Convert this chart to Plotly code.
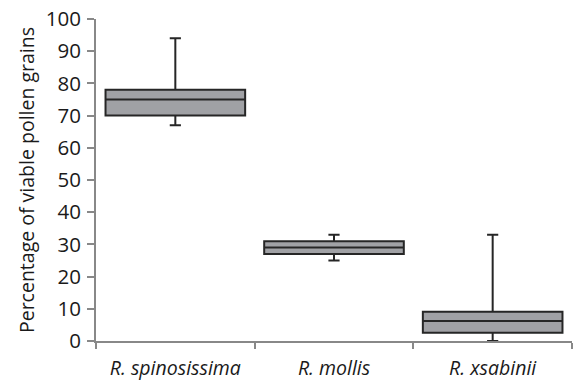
import plotly.graph_objects as go

species = ["R. spinosissima", "R. mollis", "R. xsabinii"]
lower_whisker = [67, 25, 0]
q1 = [70, 27, 2.6]
median = [75, 29, 6.2]
q3 = [78, 31, 9.1]
upper_whisker = [94, 33, 33]
y_ticks = [0, 10, 20, 30, 40, 50, 60, 70, 80, 90, 100]

fig = go.Figure()
fig.add_trace(go.Box(
    x=species,
    q1=q1, median=median, q3=q3,
    lowerfence=lower_whisker, upperfence=upper_whisker,
    fillcolor="#a0a1a5",
    line=dict(color="#262626", width=2),
    width=0.88,
    whiskerwidth=0.08,
    boxpoints=False,
    showlegend=False,
    hoverinfo="skip",
))

fig.update_layout(
    width=573, height=382,
    margin=dict(l=96, r=1, t=19, b=41),
    plot_bgcolor="white", paper_bgcolor="white",
    font=dict(family="Open Sans, sans-serif", color="#1a1a1a"),
    xaxis=dict(
        type="category",
        automargin=False,
        tickson="boundaries",
        ticks="outside", ticklen=6, tickwidth=1.5, tickcolor="#888888",
        showline=True, linecolor="#888888", linewidth=2,
        tickfont=dict(size=19.5, style="italic", color="#1a1a1a"),
        ticklabelstandoff=9,
        showgrid=False, zeroline=False,
        range=[-0.5, 2.5],
    ),
    yaxis=dict(
        range=[0, 100],
        automargin=False,
        tickvals=y_ticks,
        ticks="outside", ticklen=7, tickwidth=1.5, tickcolor="#888888",
        showline=True, linecolor="#888888", linewidth=2,
        tickfont=dict(size=20.5, color="#1a1a1a"),
        ticklabelstandoff=2,
        title=dict(text="Percentage of viable pollen grains", font=dict(size=19.5, color="#1a1a1a"), standoff=6),
        showgrid=False, zeroline=False,
    ),
)

fig.write_html("out.html")
